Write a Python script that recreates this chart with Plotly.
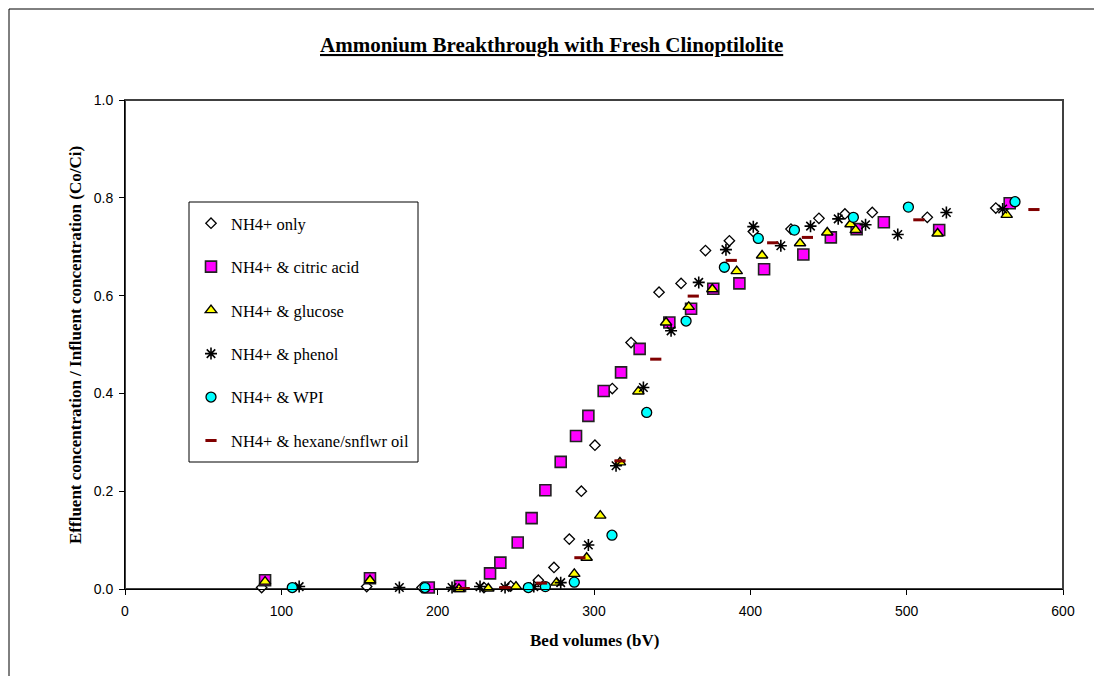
import plotly.graph_objects as go

# ---- data ----
only_x = [87.4, 154.6, 190.0, 229.6, 246.7, 264.4, 274.4, 284.2, 291.9, 300.6, 311.7, 323.7, 341.6, 355.7, 371.3, 386.6, 401.9, 426.0, 443.9, 460.5, 478.0, 513.2, 557.0]
only_y = [0.003, 0.005, 0.003, 0.003, 0.006, 0.018, 0.044, 0.102, 0.200, 0.294, 0.410, 0.504, 0.607, 0.625, 0.692, 0.712, 0.731, 0.736, 0.758, 0.767, 0.770, 0.760, 0.779]

citric_x = [89.6, 156.7, 194.3, 214.3, 233.5, 240.1, 251.2, 260.1, 268.9, 278.7, 288.5, 296.4, 306.2, 317.3, 329.2, 348.2, 362.1, 376.3, 393.0, 408.8, 433.9, 451.5, 468.0, 485.4, 520.8, 565.9]
citric_y = [0.018, 0.022, 0.003, 0.006, 0.032, 0.054, 0.095, 0.145, 0.202, 0.260, 0.313, 0.354, 0.405, 0.443, 0.491, 0.545, 0.573, 0.614, 0.625, 0.654, 0.684, 0.719, 0.736, 0.750, 0.734, 0.789]

glucose_x = [89.6, 156.7, 213.6, 232.4, 250.1, 276.1, 287.4, 295.3, 304.0, 316.6, 328.4, 346.1, 360.6, 375.7, 391.3, 407.5, 431.8, 449.2, 464.1, 467.4, 519.8, 564.0]
glucose_y = [0.015, 0.018, 0.000, 0.001, 0.005, 0.013, 0.031, 0.064, 0.150, 0.259, 0.404, 0.545, 0.577, 0.613, 0.650, 0.682, 0.707, 0.729, 0.746, 0.734, 0.727, 0.765]

phenol_x = [111.4, 175.5, 209.2, 227.1, 243.1, 261.5, 278.7, 296.4, 314.1, 331.6, 349.3, 367.0, 384.4, 401.9, 419.5, 438.5, 456.2, 473.7, 494.3, 525.4, 561.4]
phenol_y = [0.005, 0.003, 0.003, 0.005, 0.003, 0.005, 0.013, 0.090, 0.252, 0.412, 0.528, 0.627, 0.694, 0.741, 0.702, 0.742, 0.757, 0.745, 0.725, 0.770, 0.777]

wpi_x = [107.0, 191.9, 258.0, 268.9, 287.4, 311.5, 333.7, 358.9, 383.4, 405.1, 428.2, 465.9, 501.1, 569.3]
wpi_y = [0.003, 0.003, 0.003, 0.005, 0.014, 0.110, 0.361, 0.548, 0.658, 0.717, 0.734, 0.760, 0.781, 0.792]

oil_x = [217.0, 243.1, 266.5, 291.0, 316.6, 339.5, 363.5, 387.8, 414.3, 436.5, 507.8, 581.4]
oil_y = [0.001, 0.003, 0.012, 0.064, 0.262, 0.470, 0.599, 0.672, 0.708, 0.719, 0.755, 0.776]

x_ticks = [0, 100, 200, 300, 400, 500, 600]
y_ticks = [0.0, 0.2, 0.4, 0.6, 0.8, 1.0]

TITLE = "Ammonium Breakthrough with Fresh Clinoptilolite"
X_TITLE = "Bed volumes (bV)"
Y_TITLE = "Effluent concentration / Influent concentration (Co/Ci)"

SERIF = "Liberation Serif, Times New Roman, serif"
SANS = "Liberation Sans, Arial, sans-serif"

fig = go.Figure()

series = [
    ("NH4+ only", only_x, only_y, dict(symbol="diamond", size=8, color="white", line=dict(color="black", width=1.3))),
    ("NH4+ & citric acid", citric_x, citric_y, dict(symbol="square", size=11, color="#FF00FF", line=dict(color="#222222", width=1.6))),
    ("NH4+ & glucose", glucose_x, glucose_y, dict(symbol="triangle-up", size=10, color="#FFFF00", line=dict(color="black", width=1.4))),
    ("NH4+ & phenol", phenol_x, phenol_y, dict(symbol="asterisk-open", size=10, color="black", line=dict(color="black", width=1.6))),
    ("NH4+ & WPI", wpi_x, wpi_y, dict(symbol="circle", size=10, color="#00FFFF", line=dict(color="black", width=1.3))),
    ("NH4+ & hexane/snflwr oil", oil_x, oil_y, dict(symbol="line-ew-open", size=8, color="#800000", line=dict(color="#800000", width=3))),
]
for i, (name, xs, ys, mk) in enumerate(series):
    fig.add_trace(go.Scatter(x=xs, y=ys, mode="markers", name=name, marker=mk,
                             legendgroup=f"g{i}", cliponaxis=False))

# The page adds an 8px body margin, so the figure is offset by 8px on screen.
OFF = 8
W, H = 1102, 676
SL, SR, ST, SB = 125, 1063, 100, 589   # plot area in screen pixels
pw, ph = SR - SL, SB - ST

def px(xs):
    return (xs - SL) / pw

def py(ys):
    return (SB - ys) / ph

fig.update_layout(
    width=W, height=H,
    margin=dict(l=SL - OFF, r=W - (SR - OFF), t=ST - OFF, b=H - (SB - OFF)),
    paper_bgcolor="white", plot_bgcolor="white",
    showlegend=True,
    legend=dict(
        x=px(191), y=py(206), xanchor="left", yanchor="top",
        borderwidth=0, bgcolor="rgba(0,0,0,0)",
        font=dict(family=SERIF, size=16.5, color="black"),
        tracegroupgap=19, itemwidth=30,
    ),
    xaxis=dict(range=[0, 600], tickvals=x_ticks, ticktext=[str(v) for v in x_ticks],
               showgrid=False, zeroline=False, showline=True, linecolor="black", linewidth=1,
               ticks="outside", ticklen=5, tickcolor="black", ticklabelstandoff=4,
               tickfont=dict(family=SANS, size=14, color="black")),
    yaxis=dict(range=[0, 1.0], tickvals=y_ticks, ticktext=[f"{v:.1f}" for v in y_ticks],
               showgrid=False, zeroline=False, showline=True, linecolor="black", linewidth=1,
               ticks="outside", ticklen=5, tickcolor="black", ticklabelstandoff=3,
               tickfont=dict(family=SANS, size=14, color="black")),
    shapes=[
        dict(type="rect", xref="paper", yref="paper", x0=0, x1=1, y0=0, y1=1,
             line=dict(color="#404040", width=2), layer="below"),
        dict(type="rect", xref="paper", yref="paper", x0=px(189), x1=px(418), y0=py(462), y1=py(202),
             line=dict(color="black", width=1), fillcolor="white", layer="below"),
        dict(type="rect", xref="paper", yref="paper", x0=px(OFF + 1), x1=px(1096), y0=py(700), y1=py(OFF + 1),
             line=dict(color="black", width=1)),
    ],
    annotations=[
        dict(text=f"<b><u>{TITLE}</u></b>", xref="paper", yref="paper", x=px(551), y=py(45),
             xanchor="center", yanchor="middle",
             showarrow=False, font=dict(family=SERIF, size=21, color="black")),
        dict(text=f"<b>{X_TITLE}</b>", xref="paper", yref="paper", x=px(594), y=py(640),
             xanchor="center", yanchor="middle",
             showarrow=False, font=dict(family=SERIF, size=17, color="black")),
        dict(text=f"<b>{Y_TITLE}</b>", xref="paper", yref="paper", x=px(75), y=py(345),
             xanchor="center", yanchor="middle",
             showarrow=False, textangle=-90, font=dict(family=SERIF, size=17, color="black")),
    ],
)

fig.write_html("out.html")
